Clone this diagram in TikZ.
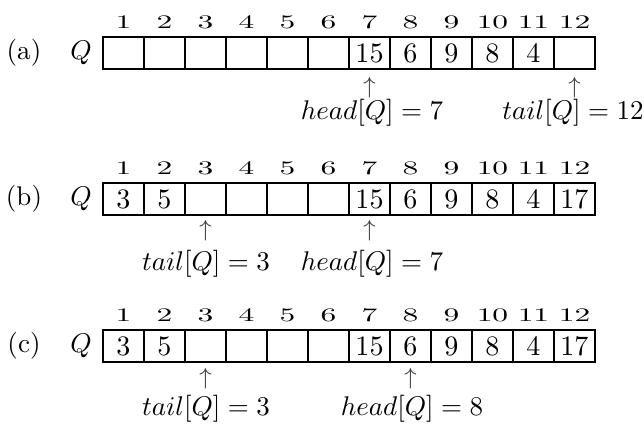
\documentclass[tikz,border=0pt]{standalone}
\usepackage{fix-cm}
\usepackage{graphicx}
\usetikzlibrary{calc}
\newcommand{\idxtxt}[1]{\scalebox{1.12}[0.68]{#1}}
\begin{document}
\begin{tikzpicture}[x=0.37pt,y=-0.37pt,
  cell/.style={draw, line width=0.7pt, minimum width=15.17pt, minimum height=11.84pt, inner sep=0pt},
  val/.style={inner sep=0pt, font=\fontsize{10.4}{12}\selectfont},
  idx/.style={inner sep=0pt, font=\fontsize{10.4}{12}\selectfont},
  lbl/.style={inner sep=0pt, font=\fontsize{10}{12}\selectfont},
  arr/.style={inner sep=0pt, anchor=north, text=black!75, font=\fontsize{8.6}{10}\selectfont}]
\useasboundingbox (0,0) rectangle (644,424);
% cells and index numbers
\foreach \r/\t in {a/37,b/183,c/330} {
  \foreach \i in {1,...,12} {
    \node[cell] (\r\i) at ({103+41*(\i-0.5)}, {\t+16}) {};
    \node[idx] (\r n\i) at ({103+41*(\i-0.5)}, {\t-15}) {\idxtxt{\i}};
  }
}
% row labels
\node[lbl] (la) at (24,53) {(a)};
\node[lbl] (qa) at (81,53) {$Q$};
\node[lbl] (lb) at (24,199) {(b)};
\node[lbl] (qb) at (81,199) {$Q$};
\node[lbl] (lc) at (24,346) {(c)};
\node[lbl] (qc) at (81,346) {$Q$};
% contents
\foreach \i/\v in {7/15,8/6,9/9,10/8,11/4} {\node[val] (av\i) at (a\i) {\v};}
\foreach \i/\v in {1/3,2/5,7/15,8/6,9/9,10/8,11/4,12/17} {\node[val] (bv\i) at (b\i) {\v};}
\foreach \i/\v in {1/3,2/5,7/15,8/6,9/9,10/8,11/4,12/17} {\node[val] (cv\i) at (c\i) {\v};}
% pointers (a)
\node[arr] (ah) at ($(a7.south)+(0,7)$) {$\uparrow$};
\node[lbl] (ahl) at (372,113) {$head[Q] = 7$};
\node[arr] (at) at ($(a12.south)+(0,7)$) {$\uparrow$};
\node[lbl] (atl) at (573,113) {$tail[Q] = 12$};
% pointers (b)
\node[arr] (bt) at ($(b3.south)+(0,4)$) {$\uparrow$};
\node[lbl] (btl) at (206,264) {$tail[Q] = 3$};
\node[arr] (bh) at ($(b7.south)+(0,4)$) {$\uparrow$};
\node[lbl] (bhl) at (372,264) {$head[Q] = 7$};
% pointers (c)
\node[arr] (ct) at ($(c3.south)+(0,5)$) {$\uparrow$};
\node[lbl] (ctl) at (206,409) {$tail[Q] = 3$};
\node[arr] (ch) at ($(c8.south)+(0,5)$) {$\uparrow$};
\node[lbl] (chl) at (412,409) {$head[Q] = 8$};
\end{tikzpicture}
\end{document}
